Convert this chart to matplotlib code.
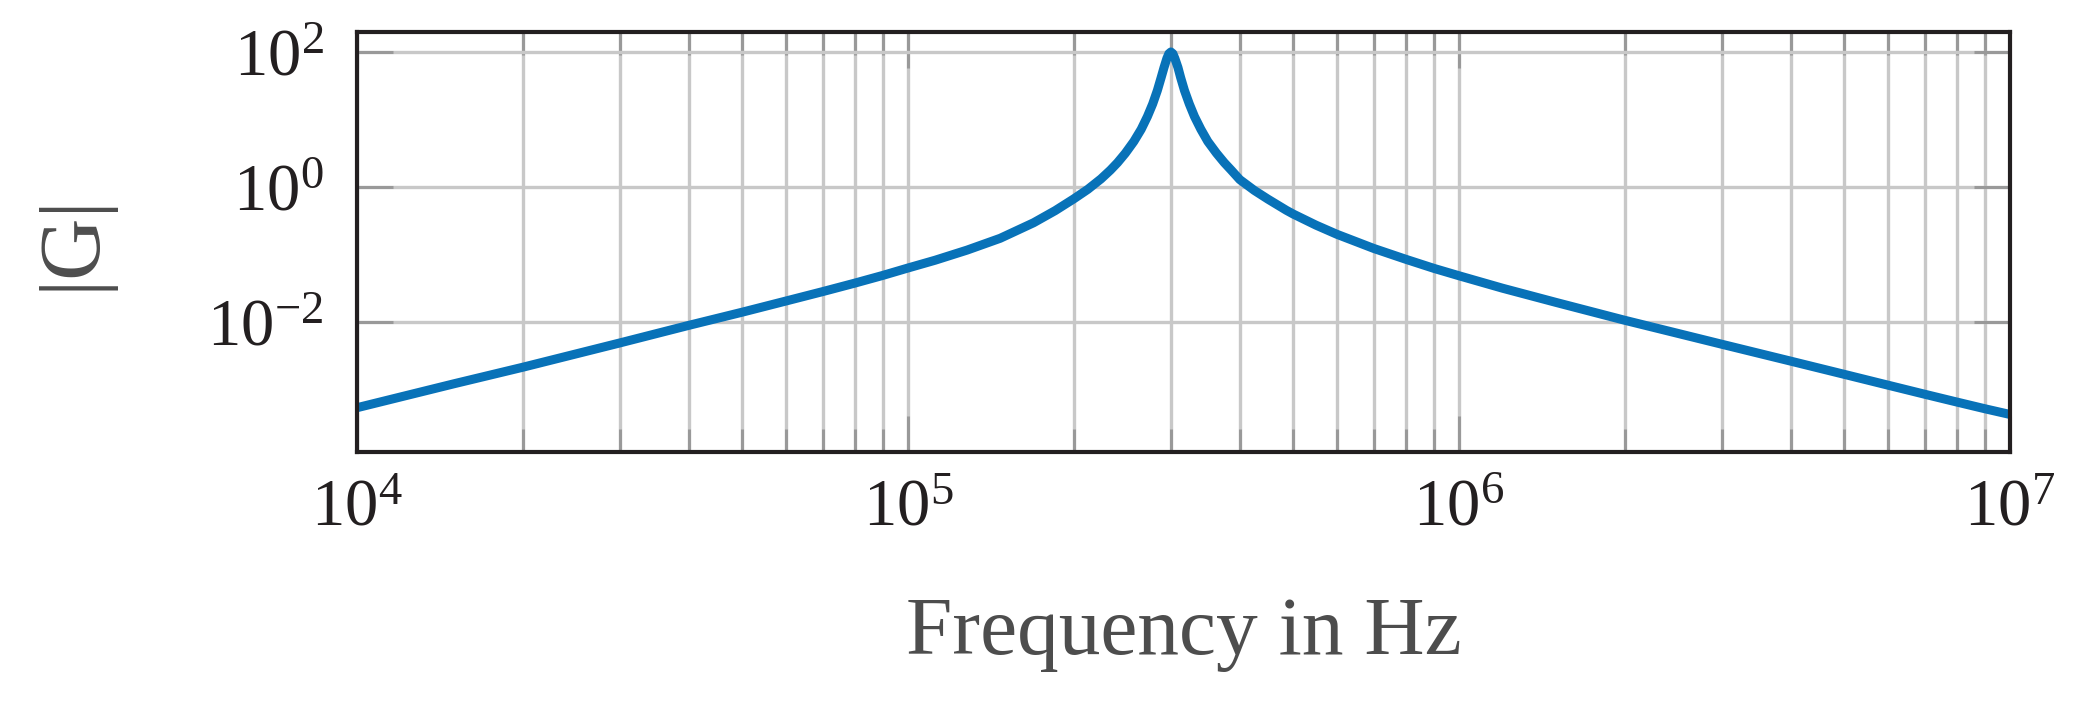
import numpy as np
import matplotlib
matplotlib.use('Agg')
import matplotlib.pyplot as plt
from matplotlib.ticker import LogLocator, NullFormatter, FixedLocator

# values (frequency in Hz, log10 of |G|)
freq_hz = [1e4, 1.5e4, 2e4, 3e4, 4e4, 5e4, 6e4, 7e4, 8e4, 9e4,
           1e5, 1.12e5, 1.28e5, 1.47e5, 1.69e5, 1.85e5, 2e5, 2.12e5, 2.24e5,
           2.33e5, 2.40e5, 2.48e5, 2.57e5, 2.65e5, 2.72e5, 2.78e5, 2.835e5,
           2.88e5, 2.915e5, 2.95e5, 2.975e5, 3e5, 3.025e5, 3.05e5, 3.09e5,
           3.125e5, 3.175e5, 3.24e5, 3.31e5, 3.40e5, 3.50e5, 3.63e5, 3.75e5,
           3.86e5, 4e5, 4.25e5, 4.5e5, 4.86e5, 5e5, 5.5e5, 6e5, 7e5, 8e5, 9e5,
           1e6, 1.2e6, 1.5e6, 2e6, 3e6, 4e6, 5e6, 6e6, 7e6, 8e6, 9e6, 1e7]
gain_log10 = [-3.27, -2.915, -2.67, -2.31, -2.05, -1.855, -1.69, -1.55, -1.425, -1.31,
              -1.20, -1.085, -0.935, -0.76, -0.53, -0.35, -0.175, -0.035, 0.12,
              0.25, 0.36, 0.50, 0.675, 0.855, 1.045, 1.23, 1.43,
              1.62, 1.77, 1.905, 1.975, 2.0, 1.975, 1.905, 1.77,
              1.62, 1.43, 1.23, 1.045, 0.855, 0.675, 0.50, 0.36,
              0.25, 0.11, -0.05, -0.18, -0.345, -0.40, -0.565, -0.70, -0.91, -1.07, -1.205,
              -1.315, -1.50, -1.71, -1.975, -2.33, -2.58, -2.775, -2.935, -3.07, -3.185, -3.285, -3.37]

xticks = [1e4, 1e5, 1e6, 1e7]
xtick_labels = [r'$10^{4}$', r'$10^{5}$', r'$10^{6}$', r'$10^{7}$']
yticks = [1e-2, 1e0, 1e2]
ytick_labels = [r'$10^{-2}$', r'$10^{0}$', r'$10^{2}$']

plt.rcParams['font.family'] = ['Liberation Serif', 'DejaVu Serif']
plt.rcParams['mathtext.fontset'] = 'custom'
plt.rcParams['mathtext.rm'] = 'Liberation Serif'
plt.rcParams['mathtext.it'] = 'Liberation Serif:italic'

gain = 10 ** np.array(gain_log10)

fig = plt.figure(figsize=(20.73, 7.03), dpi=100)
ax = fig.add_axes([357 / 2073, 1 - 452 / 703, (2010 - 357) / 2073, 420 / 703])

ax.plot(freq_hz, gain, color='#0872b8', lw=6.5, solid_joinstyle='round', zorder=3)

ax.set_xscale('log')
ax.set_yscale('log')
ax.set_xlim(1e4, 1e7)
ax.set_ylim(10 ** -3.926, 10 ** 2.296)

ax.set_xticks(xticks)
ax.set_xticklabels(xtick_labels)
ax.xaxis.set_minor_locator(LogLocator(base=10, subs=np.arange(2, 10)))
ax.xaxis.set_minor_formatter(NullFormatter())
ax.set_yticks(yticks)
ax.set_yticklabels(ytick_labels)
ax.yaxis.set_minor_locator(FixedLocator([]))

ax.grid(True, which='major', color='#c8c8c8', lw=2.4, zorder=0)
ax.grid(True, which='minor', axis='x', color='#c8c8c8', lw=2.4, zorder=0)
ax.set_axisbelow(True)

ax.tick_params(which='both', direction='in', top=True, right=True,
               color='#999999', width=2.2, labelsize=48, labelcolor='#231f20')
ax.tick_params(which='major', length=26)
ax.tick_params(which='minor', length=16.5)
ax.tick_params(axis='x', pad=19)
ax.tick_params(axis='y', pad=24)

for s in ax.spines.values():
    s.set_color('#231f20')
    s.set_linewidth(3)
    s.set_zorder(4)

ax.set_xlabel('Frequency in Hz', fontsize=60, color='#4d4d4d')
ax.xaxis.set_label_coords(0.5, -0.345)
ax.set_ylabel('|G|', fontsize=62, color='#4d4d4d')
ax.yaxis.set_label_coords(-0.148, 0.5)

fig.savefig('out.png', dpi=100)
